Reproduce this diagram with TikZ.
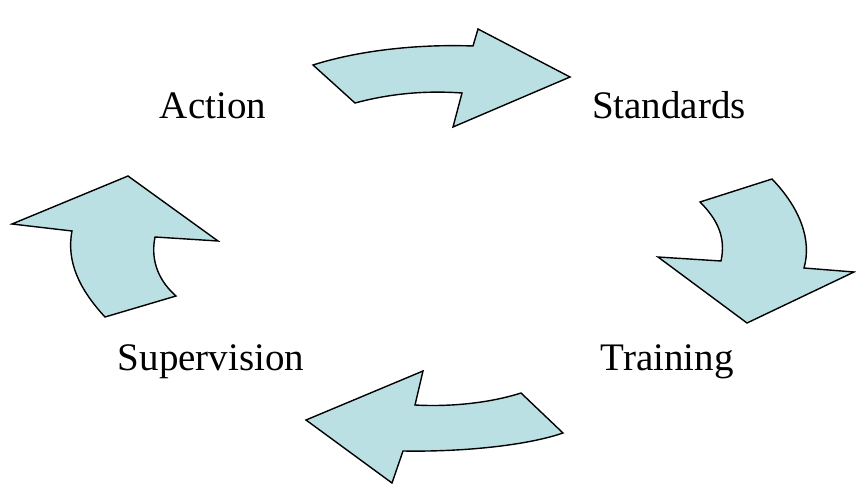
\documentclass[tikz,border=0pt]{standalone}
\usepackage{fontspec}
\setmainfont{Liberation Serif}
\usepackage{tikz}
\usetikzlibrary{positioning}
\definecolor{arrowF}{HTML}{BBE0E3}
\definecolor{ink}{HTML}{000000}
\tikzset{
  cyc/.style={draw=ink, fill=arrowF, line width=1.4pt, line join=miter},
  lbl/.style={font=\fontsize{39}{47}\selectfont, anchor=base, inner sep=0pt},
}

\begin{document}
\begin{tikzpicture}[x=1pt, y=-1pt]
  \useasboundingbox (0,0) rectangle (856,484);

  % ------------------------------------------------ the four stages
  \node[lbl] (act) at (213,118) {Action};
  \node[lbl] (std) at (669,118) {Standards};
  \node[lbl] (trn) at (667,370) {Training};
  \node[lbl] (sup) at (211,370) {Supervision};

  % ------------------------------------------------ action to standards
  \draw[cyc] (313,65) .. controls (360,50) and (420,44) .. (473,46)
    -- (478,29) -- (570,77) -- (453,127) -- (462,93)
    .. controls (420,90) and (385,95) .. (355,103) -- cycle;

  % ------------------------------------------------ standards to training
  \draw[cyc] (700,202) -- (772,179)
    .. controls (800,208) and (812,240) .. (804,268)
    -- (854,272) -- (747,323) -- (658,257) -- (721,261)
    .. controls (726,238) and (718,220) .. cycle;

  % ------------------------------------------------ training to supervision
  \draw[cyc] (521,393) .. controls (490,403) and (450,407) .. (415,405)
    -- (423,371) -- (306,420) -- (392,483) -- (403,451)
    .. controls (460,452) and (525,446) .. (563,433) -- cycle;

  % ------------------------------------------------ supervision to action
  \draw[cyc] (105,317) .. controls (80,290) and (66,262) .. (72,231)
    -- (12,224) -- (128,176) -- (218,241) -- (155,237)
    .. controls (150,262) and (160,282) .. (176,296) -- cycle;
\end{tikzpicture}
\end{document}
